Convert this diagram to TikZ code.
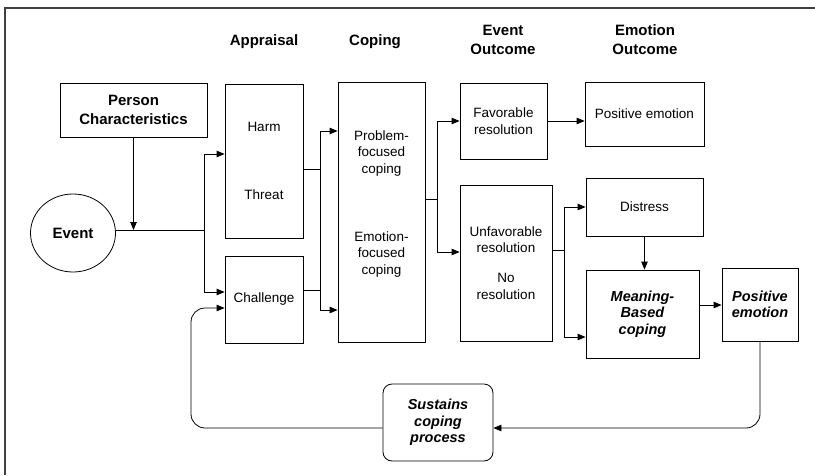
\documentclass[tikz,border=0pt]{standalone}
\usepackage{fontspec}
\setmainfont{Liberation Sans}
\usetikzlibrary{arrows.meta,shapes.geometric}

\begin{document}
\begin{tikzpicture}[x=1pt, y=-1pt, line width=0.8pt,
        box/.style = {draw, rectangle, align=center, inner sep=2pt, font=\fontsize{13.5}{16.5}\selectfont},
        hdr/.style = {align=center, font=\fontsize{15}{19}\selectfont\bfseries},
        bi/.style = {font=\fontsize{14.5}{16.5}\selectfont\bfseries\itshape},
        arr/.style = {-{Triangle[length=8pt,width=6.5pt]}}]
    \useasboundingbox (0,0) rectangle (815,475);
    \draw[line width=1.3pt, black!75] (5,475) -- (5,8) -- (815,8);

    % column heads
    \node[hdr] (happ) at (264,42) {Appraisal};
    \node[hdr] (hcop) at (375,42) {Coping};
    \node[hdr] (hevt) at (503,40) {Event\\Outcome};
    \node[hdr] (hemo) at (645,40) {Emotion\\Outcome};

    % boxes
    \node[box, hdr, minimum width=147, minimum height=54] (person) at (133.5,110) {Person\\Characteristics};
    \node[draw, ellipse, hdr, minimum width=85, minimum height=78] (event) at (73,233) {Event};
    \node[box, minimum width=78, minimum height=154] (harm) at (264,161) {Harm\\[3.8em]Threat};
    \node[box, minimum width=78, minimum height=87] (challenge) at (264,299.5) {Challenge};
    \node[box, minimum width=87, minimum height=260] (coping) at (381.5,212) {Problem-\\focused\\coping\\[3.8em]Emotion-\\focused\\coping\\[3pt]\mbox{}};
    \node[box, minimum width=87, minimum height=76] (favorable) at (503.5,121) {Favorable\\resolution};
    \node[box, minimum width=119, minimum height=64] (posemo) at (644.5,114) {Positive emotion};
    \node[box, minimum width=92, minimum height=156] (unfavorable) at (506,263) {Unfavorable\\resolution\\[1em]No\\resolution};
    \node[box, minimum width=117, minimum height=58] (distress) at (644.5,207) {Distress};
    \node[box, bi, minimum width=113, minimum height=88] (meaning) at (642.5,314) {Meaning-\\Based\\coping};
    \node[box, bi, minimum width=76, minimum height=73] (posemob) at (760,304.5) {Positive\\emotion};
    \node[box, bi, rounded corners=9pt, minimum width=110, minimum height=77] (sustains) at (438,422.5) {Sustains\\coping\\process};

    % junctions
    \coordinate (j1) at (204,230);
    \coordinate (j2) at (320,199);
    \coordinate (j3) at (437,199);
    \coordinate (j4) at (564,250);
    \coordinate (loop) at (191,428);

    % connectors
    \draw[arr] (person) -- (person |- j1);
    \draw (event.east |- j1) -- (j1);
    \draw[arr] (j1) |- ([yshift=7pt]harm.west);
    \draw[arr] (j1) |- ([yshift=7.5pt]challenge.west);
    \draw ([yshift=-8pt]harm.east) -- ([yshift=-8pt]harm.east -| j2);
    \draw ([yshift=9.5pt]challenge.east) -- ([yshift=9.5pt]challenge.east -| j2);
    \draw[arr] (j2) |- ([yshift=81pt]coping.west);
    \draw[arr] (j2) |- ([yshift=-98pt]coping.west);
    \draw ([yshift=13pt]coping.east) -- (j3);
    \draw[arr] (j3) |- (favorable.west);
    \draw[arr] (j3) |- ([yshift=11pt]unfavorable.west);
    \draw[arr] (favorable.east) -- (favorable.east -| posemo.west);
    \draw ([yshift=13pt]unfavorable.east) -- (j4);
    \draw[arr] (j4) |- (distress.west);
    \draw[arr] (j4) |- ([yshift=-23pt]meaning.west);
    \draw[arr] (distress.south) -- (distress.south |- meaning.north);
    \draw[arr] ([yshift=9pt]meaning.east) -- ([yshift=9pt]meaning.east -| posemob.west);
    \draw[arr, rounded corners=14pt] (posemob.south) |- ([yshift=-5.5pt]sustains.east);
    \draw[arr, rounded corners=14pt] ([yshift=-5.5pt]sustains.west) -- (loop) |- ([yshift=-8.5pt]challenge.west);
\end{tikzpicture}
\end{document}
